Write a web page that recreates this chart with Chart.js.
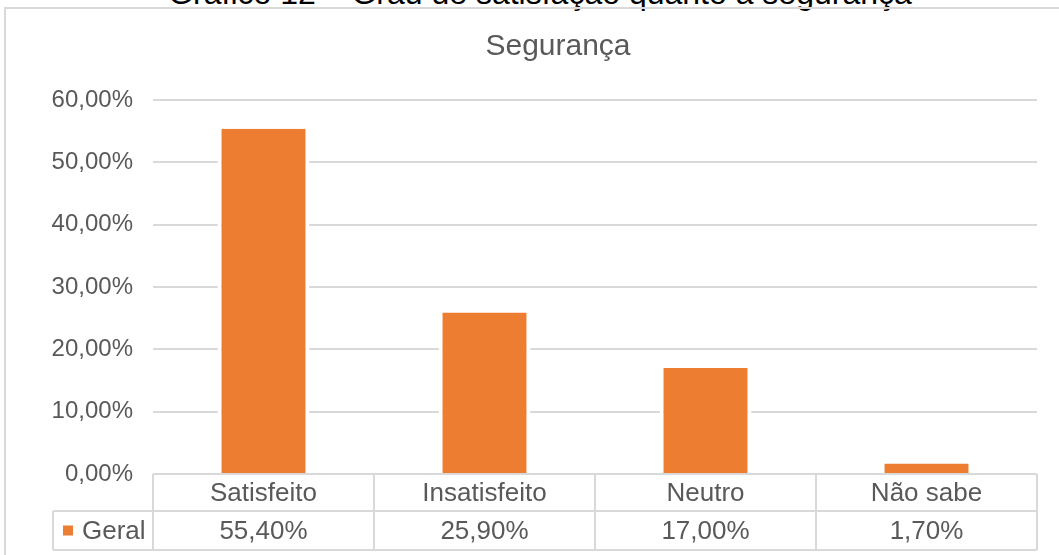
<!DOCTYPE html>
<html>
<head>
<meta charset="utf-8">
<script src="https://cdn.jsdelivr.net/npm/chart.js@4"></script>
<style>
  html, body { margin: 0; padding: 0; background: #fff; overflow: hidden; }
  #wrap { position: relative; width: 1059px; height: 555px; overflow: hidden; }
  #caption { position: absolute; left: 0; top: -23px; width: 1080px; line-height: 32px; text-align: center;
    font-family: "Liberation Sans", Arial, sans-serif; font-size: 32px; color: #000; white-space: nowrap; }
  #frame { position: absolute; left: 4px; top: 7px; width: 1200px; height: 700px;
    border-left: 2px solid #d9d9d9; border-top: 2px solid #d9d9d9; }
  #chart { position: absolute; left: 0; top: 0; }
</style>
</head>
<body>
<div id="wrap">
  <div id="caption">Gráfico 12 – Grau de satisfação quanto à segurança</div>
  <div id="frame"></div>
  <canvas id="chart" width="1059" height="555"></canvas>
</div>
<script>
const chartTitle = "Segurança";
const categories = ["Satisfeito", "Insatisfeito", "Neutro", "Não sabe"];
const seriesName = "Geral";
const geral = [55.4, 25.9, 17.0, 1.7];
const yMin = 0;
const yMax = 60;
const yStep = 10;

const grey = "#595959";
const lineGrey = "#d9d9d9";
const orange = "#ed7d31";
const font = "Liberation Sans, Arial, sans-serif";

function pct(v) {
  return v.toFixed(2).replace(".", ",") + "%";
}

// title is centred on the (wider) chart frame, not the canvas
const titlePlugin = {
  id: "titleText",
  afterDraw(chart) {
    const ctx = chart.ctx;
    ctx.save();
    ctx.fillStyle = grey;
    ctx.font = "30px " + font;
    ctx.textAlign = "center";
    ctx.textBaseline = "middle";
    ctx.fillText(chartTitle, 558, 47);
    ctx.restore();
  }
};

// data table under the plot, cells follow the x scale
const tablePlugin = {
  id: "dataTable",
  afterDraw(chart) {
    const ctx = chart.ctx;
    const x = chart.scales.x;
    const area = chart.chartArea;
    const n = categories.length;
    const w = (x.right - x.left) / n;
    const top = area.bottom;
    const mid = top + 37;
    const bot = mid + 39;
    const legLeft = 53;

    ctx.save();
    ctx.strokeStyle = lineGrey;
    ctx.lineWidth = 2;
    ctx.beginPath();
    ctx.moveTo(x.left, top); ctx.lineTo(x.right, top);
    ctx.moveTo(legLeft, mid); ctx.lineTo(x.right, mid);
    ctx.moveTo(legLeft, bot); ctx.lineTo(x.right, bot);
    ctx.moveTo(legLeft, mid); ctx.lineTo(legLeft, bot);
    for (let i = 0; i <= n; i++) {
      const bx = x.left + i * w;
      ctx.moveTo(bx, top); ctx.lineTo(bx, bot);
    }
    ctx.stroke();

    ctx.fillStyle = grey;
    ctx.font = "26px " + font;
    ctx.textAlign = "center";
    ctx.textBaseline = "middle";
    categories.forEach((c, i) => {
      const cx = x.getPixelForValue(i);
      ctx.fillText(c, cx, (top + mid) / 2 + 1);
      ctx.fillText(pct(geral[i]), cx, (mid + bot) / 2 + 1);
    });

    ctx.fillStyle = orange;
    ctx.fillRect(legLeft + 10, (mid + bot) / 2 - 5, 10, 10);
    ctx.fillStyle = grey;
    ctx.textAlign = "left";
    ctx.fillText(seriesName, legLeft + 29, (mid + bot) / 2 + 1);
    ctx.restore();
  }
};

new Chart(document.getElementById("chart"), {
  type: "bar",
  data: {
    labels: categories,
    datasets: [
      {
        label: seriesName,
        data: geral,
        backgroundColor: orange,
        borderColor: "#ffffff",
        borderWidth: { left: 4, right: 4, top: 0, bottom: 0 },
        barPercentage: 0.416,
        categoryPercentage: 1
      }
    ]
  },
  options: {
    responsive: false,
    animation: false,
    layout: { padding: { top: 100, right: 22, bottom: 81, left: 0 } },
    plugins: {
      legend: { display: false },
      tooltip: { enabled: false },
      title: { display: false }
    },
    scales: {
      x: { display: false },
      y: {
        min: yMin,
        max: yMax,
        ticks: {
          stepSize: yStep,
          color: grey,
          padding: 20,
          font: { family: font, size: 24 },
          callback: (v) => pct(v)
        },
        grid: { color: lineGrey, lineWidth: 2, drawTicks: false },
        border: { display: false },
        afterFit(scale) { scale.width = 153; }
      }
    }
  },
  plugins: [titlePlugin, tablePlugin]
});
</script>
</body>
</html>
